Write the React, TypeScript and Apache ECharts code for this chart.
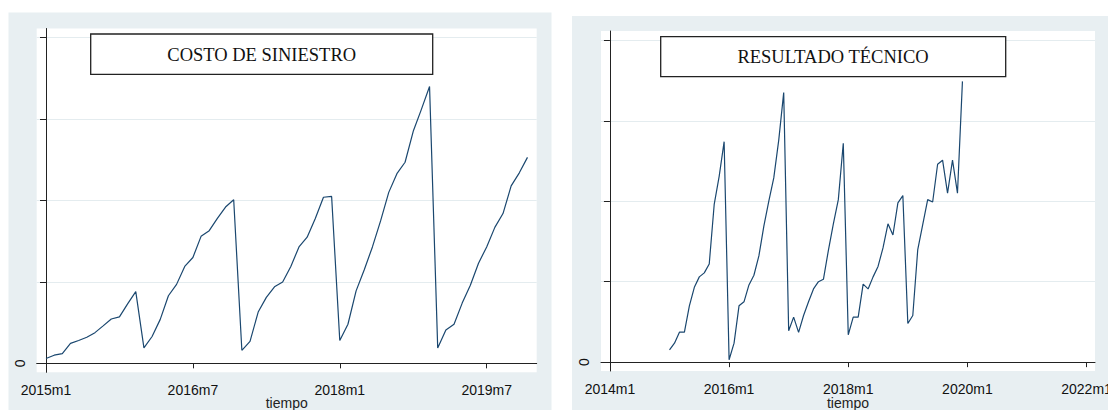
import React, { useEffect, useRef } from "react";
import * as echarts from "echarts";

// Monthly series, 2015m1 .. 2019m12 (values in y-axis units; only "0" is labelled)
const costoValues = [
  0.06, 0.1, 0.12, 0.245, 0.28, 0.32, 0.377, 0.46, 0.545, 0.57, 0.73, 0.88,
  0.19, 0.33, 0.54, 0.83, 0.97, 1.19, 1.3, 1.56, 1.63, 1.78, 1.92, 2.01,
  0.16, 0.27, 0.63, 0.81, 0.94, 1.0, 1.19, 1.43, 1.55, 1.78, 2.04, 2.05,
  0.28, 0.48, 0.89, 1.15, 1.43, 1.75, 2.1, 2.33, 2.47, 2.85, 3.12, 3.4,
  0.19, 0.41, 0.48, 0.74, 0.96, 1.23, 1.43, 1.67, 1.84, 2.18, 2.34, 2.53,
];
const resultadoValues = [
  0.153, 0.236, 0.373, 0.373, 0.7, 0.93, 1.06, 1.11, 1.22, 1.96, 2.31, 2.74,
  0.03, 0.236, 0.7, 0.75, 0.96, 1.08, 1.32, 1.69, 2.0, 2.29, 2.76, 3.35,
  0.39, 0.56, 0.37, 0.58, 0.75, 0.91, 1.0, 1.03, 1.39, 1.72, 2.02, 2.72,
  0.34, 0.56, 0.56, 0.97, 0.91, 1.06, 1.19, 1.42, 1.72, 1.58, 1.98, 2.07,
  0.48, 0.58, 1.4, 1.71, 2.02, 1.99, 2.46, 2.51, 2.1, 2.51, 2.1, 3.49,
];

// Left panel: month index counted from 2015m1; right panel: from 2014m1
const leftTickMonths = [0, 18, 36, 54];
const leftTickLabels = ["2015m1", "2016m7", "2018m1", "2019m7"];
const rightTickMonths = [0, 24, 48, 72, 96];
const rightTickLabels = ["2014m1", "2016m1", "2018m1", "2020m1", "2022m1"];
const leftSeriesStart = 0; // 2015m1
const rightSeriesStart = 12; // 2015m1 relative to 2014m1
const yTicks = [0, 1, 2, 3, 4];
const titles = ["COSTO DE SINIESTRO", "RESULTADO TÉCNICO"];
const xName = "tiempo";

const NAVY = "#1a476f";
const BG = "#e8eff2";
const GRIDLINE = "#e4ecef";
const AXIS = "#222";

function toPairs(values: number[], start: number) {
  return values.map((v, i) => [start + i, v]);
}

function makeX(gridIndex: number, ticks: number[], labels: string[], min: number, max: number) {
  const map: Record<string, string> = {};
  ticks.forEach((t, i) => (map[String(t)] = labels[i]));
  return {
    type: "value",
    gridIndex,
    min,
    max,
    axisLine: { show: true, lineStyle: { color: AXIS, width: 1 } },
    axisTick: { show: true, length: 5, customValues: ticks, lineStyle: { color: AXIS } },
    axisLabel: {
      show: true,
      customValues: ticks,
      margin: 11,
      hideOverlap: false,
      fontFamily: "Liberation Sans",
      fontSize: 14,
      color: "#111",
      formatter: (v: number) => map[String(Math.round(v))] ?? "",
    },
    splitLine: { show: false },
  };
}

function makeY(gridIndex: number, min: number, max: number) {
  return {
    type: "value",
    gridIndex,
    min,
    max,
    axisLine: { show: true, lineStyle: { color: AXIS, width: 1 } },
    axisTick: { show: true, length: 6, customValues: yTicks, lineStyle: { color: AXIS } },
    axisLabel: {
      show: true,
      customValues: yTicks,
      rotate: 90,
      margin: 10,
      fontFamily: "Liberation Sans",
      fontSize: 14,
      color: "#111",
      formatter: (v: number) => (v === 0 ? "0" : ""),
    },
    splitLine: { show: true, lineStyle: { color: GRIDLINE, width: 1 } },
  };
}

function nameText(x: number) {
  return {
    type: "text",
    z: 11,
    x,
    y: 403,
    style: {
      text: xName,
      fontFamily: "Liberation Sans",
      fontSize: 14,
      fill: "#222",
      align: "center",
      verticalAlign: "middle",
    },
  };
}

export default function App() {
  const ref = useRef<HTMLDivElement>(null);
  useEffect(() => {
    if (!ref.current) return;
    const chart = echarts.init(ref.current, null, { renderer: "svg" });
    chart.setOption({
      animation: false,
      backgroundColor: "#ffffff",
      grid: [
        {
          left: 36.7, top: 28.5, width: 500, height: 343.8,
          show: true, backgroundColor: "#fff", borderWidth: 0,
          containLabel: false, outerBoundsMode: "none",
        },
        {
          left: 601, top: 31, width: 494, height: 340,
          show: true, backgroundColor: "#fff", borderWidth: 0,
          containLabel: false, outerBoundsMode: "none",
        },
      ],
      xAxis: [
        makeX(0, leftTickMonths, leftTickLabels, -1.14, 60.13),
        makeX(1, rightTickMonths, rightTickLabels, -1.8, 97.7),
      ],
      yAxis: [makeY(0, -0.11, 4.113), makeY(1, -0.11, 4.116)],
      series: [
        {
          type: "line",
          xAxisIndex: 0,
          yAxisIndex: 0,
          data: toPairs(costoValues, leftSeriesStart),
          showSymbol: false,
          lineStyle: { color: NAVY, width: 1.2 },
          z: 3,
        },
        {
          type: "line",
          xAxisIndex: 1,
          yAxisIndex: 1,
          data: toPairs(resultadoValues, rightSeriesStart),
          showSymbol: false,
          lineStyle: { color: NAVY, width: 1.2 },
          z: 3,
        },
      ],
      graphic: [
        { type: "rect", z: -10, silent: true, shape: { x: 8.5, y: 12.5, width: 543, height: 398 }, style: { fill: BG } },
        { type: "rect", z: -10, silent: true, shape: { x: 572, y: 16, width: 536, height: 394 }, style: { fill: BG } },
        nameText(286.7),
        nameText(848),
        {
          type: "rect",
          z: 10,
          shape: { x: 90.7, y: 34, width: 342, height: 40.3 },
          style: { fill: "#fff", stroke: "#222", lineWidth: 1.3 },
        },
        {
          type: "text",
          z: 11,
          x: 261.7,
          y: 54.5,
          style: {
            text: titles[0],
            fontFamily: "Liberation Serif",
            fontSize: 18.5,
            fill: "#111",
            align: "center",
            verticalAlign: "middle",
          },
        },
        {
          type: "rect",
          z: 10,
          shape: { x: 660.7, y: 36.7, width: 345, height: 40 },
          style: { fill: "#fff", stroke: "#222", lineWidth: 1.3 },
        },
        {
          type: "text",
          z: 11,
          x: 833,
          y: 57,
          style: {
            text: titles[1],
            fontFamily: "Liberation Serif",
            fontSize: 18.5,
            fill: "#111",
            align: "center",
            verticalAlign: "middle",
          },
        },
      ],
    });
    return () => chart.dispose();
  }, []);
  return (
    <div
      ref={ref}
      style={{ position: "fixed", left: 0, top: 0, width: 1108, height: 410 }}
    />
  );
}
